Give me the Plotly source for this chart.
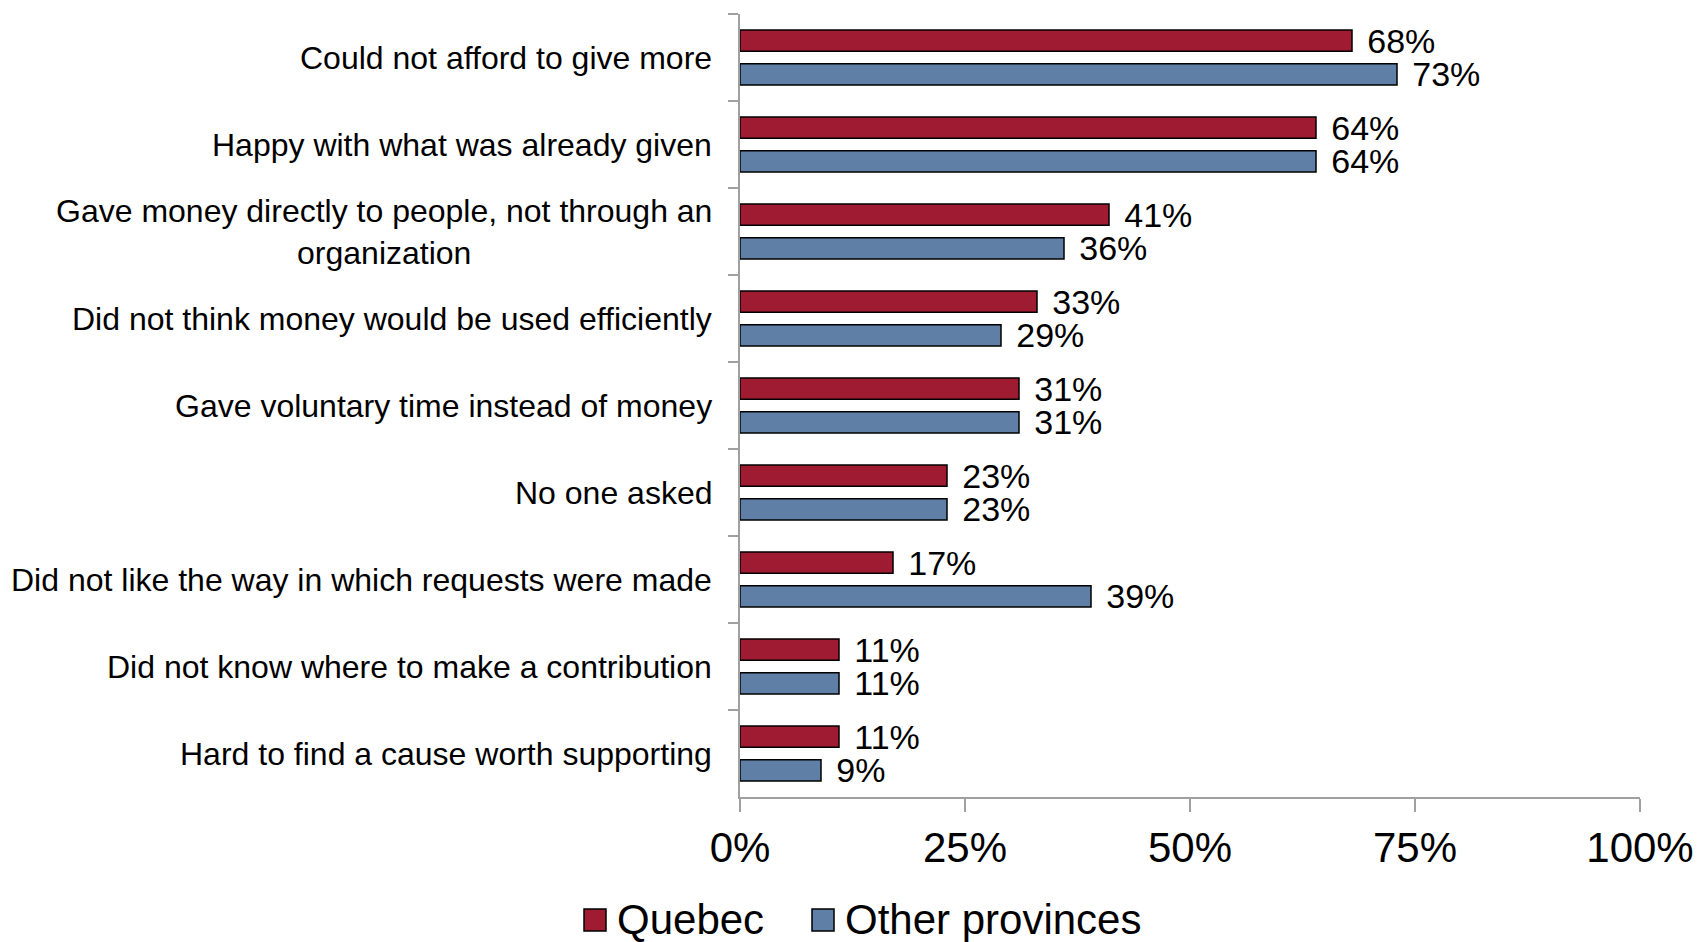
import plotly.graph_objects as go

# Reasons for not giving more, by region (% of donors)
categories = [
    "Could not afford to give more",
    "Happy with what was already given",
    "Gave money directly to people, not through an<br>organization",
    "Did not think money would be used efficiently",
    "Gave voluntary time instead of money",
    "No one asked",
    "Did not like the way in which requests were made",
    "Did not know where to make a contribution",
    "Hard to find a cause worth supporting",
]
quebec = [68, 64, 41, 33, 31, 23, 17, 11, 11]
other_provinces = [73, 64, 36, 29, 31, 23, 39, 11, 9]

series_names = ["Quebec", "Other provinces"]
series_colors = ["#9E1B32", "#5F7FA7"]
x_ticks = [0, 25, 50, 75, 100]

FONT = "Arial, 'Liberation Sans', sans-serif"

W, H = 1698, 942
M_L, M_R, M_T, M_B = 740, 58, 14, 145
PW, PH = W - M_L - M_R, H - M_T - M_B


def px_x(p):
    return (p - M_L) / PW


def px_y(p):
    return (H - M_B - p) / PH


fig = go.Figure()
for name, vals, col in zip(series_names, [quebec, other_provinces], series_colors):
    fig.add_trace(go.Bar(
        name=name,
        y=categories,
        x=vals,
        orientation="h",
        marker=dict(color=col, line=dict(color="#000000", width=1.5)),
        text=[f"\u00a0\u200a{v}%" for v in vals],
        texttemplate="%{text}",
        textposition="outside",
        textfont=dict(family=FONT, size=34, color="#000000"),
        constraintext="none",
        cliponaxis=False,
        showlegend=False,
        hoverinfo="skip",
    ))

# Category labels, centred per line and right-aligned against the axis
annotations = []
for cat in categories:
    annotations.append(dict(
        text=cat, xref="paper", x=0, xshift=-26, xanchor="right",
        yref="y", y=cat, yanchor="middle", align="center",
        showarrow=False, font=dict(family=FONT, size=32, color="#000000"),
    ))

# Legend: swatches and names under the axis
shapes = []
legend_items = [(584, 615), (812, 843)]
for (sx, tx), name, col in zip(legend_items, series_names, series_colors):
    shapes.append(dict(
        type="rect", xref="paper", yref="paper",
        x0=px_x(sx), x1=px_x(sx + 22), y0=px_y(931), y1=px_y(909),
        fillcolor=col, line=dict(color="#000000", width=1.5),
    ))
    annotations.append(dict(
        text=name, xref="paper", yref="paper", x=px_x(tx), y=px_y(919),
        xanchor="left", yanchor="middle", showarrow=False,
        font=dict(family=FONT, size=42, color="#000000"),
    ))

fig.update_layout(
    width=W, height=H, autosize=False,
    margin=dict(l=M_L, r=M_R, t=M_T, b=M_B, pad=0, autoexpand=False),
    paper_bgcolor="white", plot_bgcolor="white",
    barmode="group", bargap=0.224, bargroupgap=0.364,
    showlegend=False,
    font=dict(family=FONT, color="#000000"),
    annotations=annotations,
    shapes=shapes,
)
fig.update_yaxes(
    type="category", autorange="reversed", automargin=False,
    showline=True, linecolor="#A0A0A0", linewidth=1.5,
    ticks="outside", tickson="boundaries", ticklen=10,
    tickcolor="#A0A0A0", tickwidth=1.5,
    showticklabels=False, showgrid=False, zeroline=False,
)
fig.update_xaxes(
    range=[0, 100], tickmode="array", tickvals=x_ticks,
    ticktext=[f"{t}%" for t in x_ticks], automargin=False,
    showline=True, linecolor="#A0A0A0", linewidth=1.5,
    ticks="outside", ticklen=13, tickcolor="#A0A0A0", tickwidth=1.5,
    tickfont=dict(family=FONT, size=42, color="#000000"),
    ticklabelstandoff=0,
    showgrid=False, zeroline=False,
)

fig.write_html("out.html")
